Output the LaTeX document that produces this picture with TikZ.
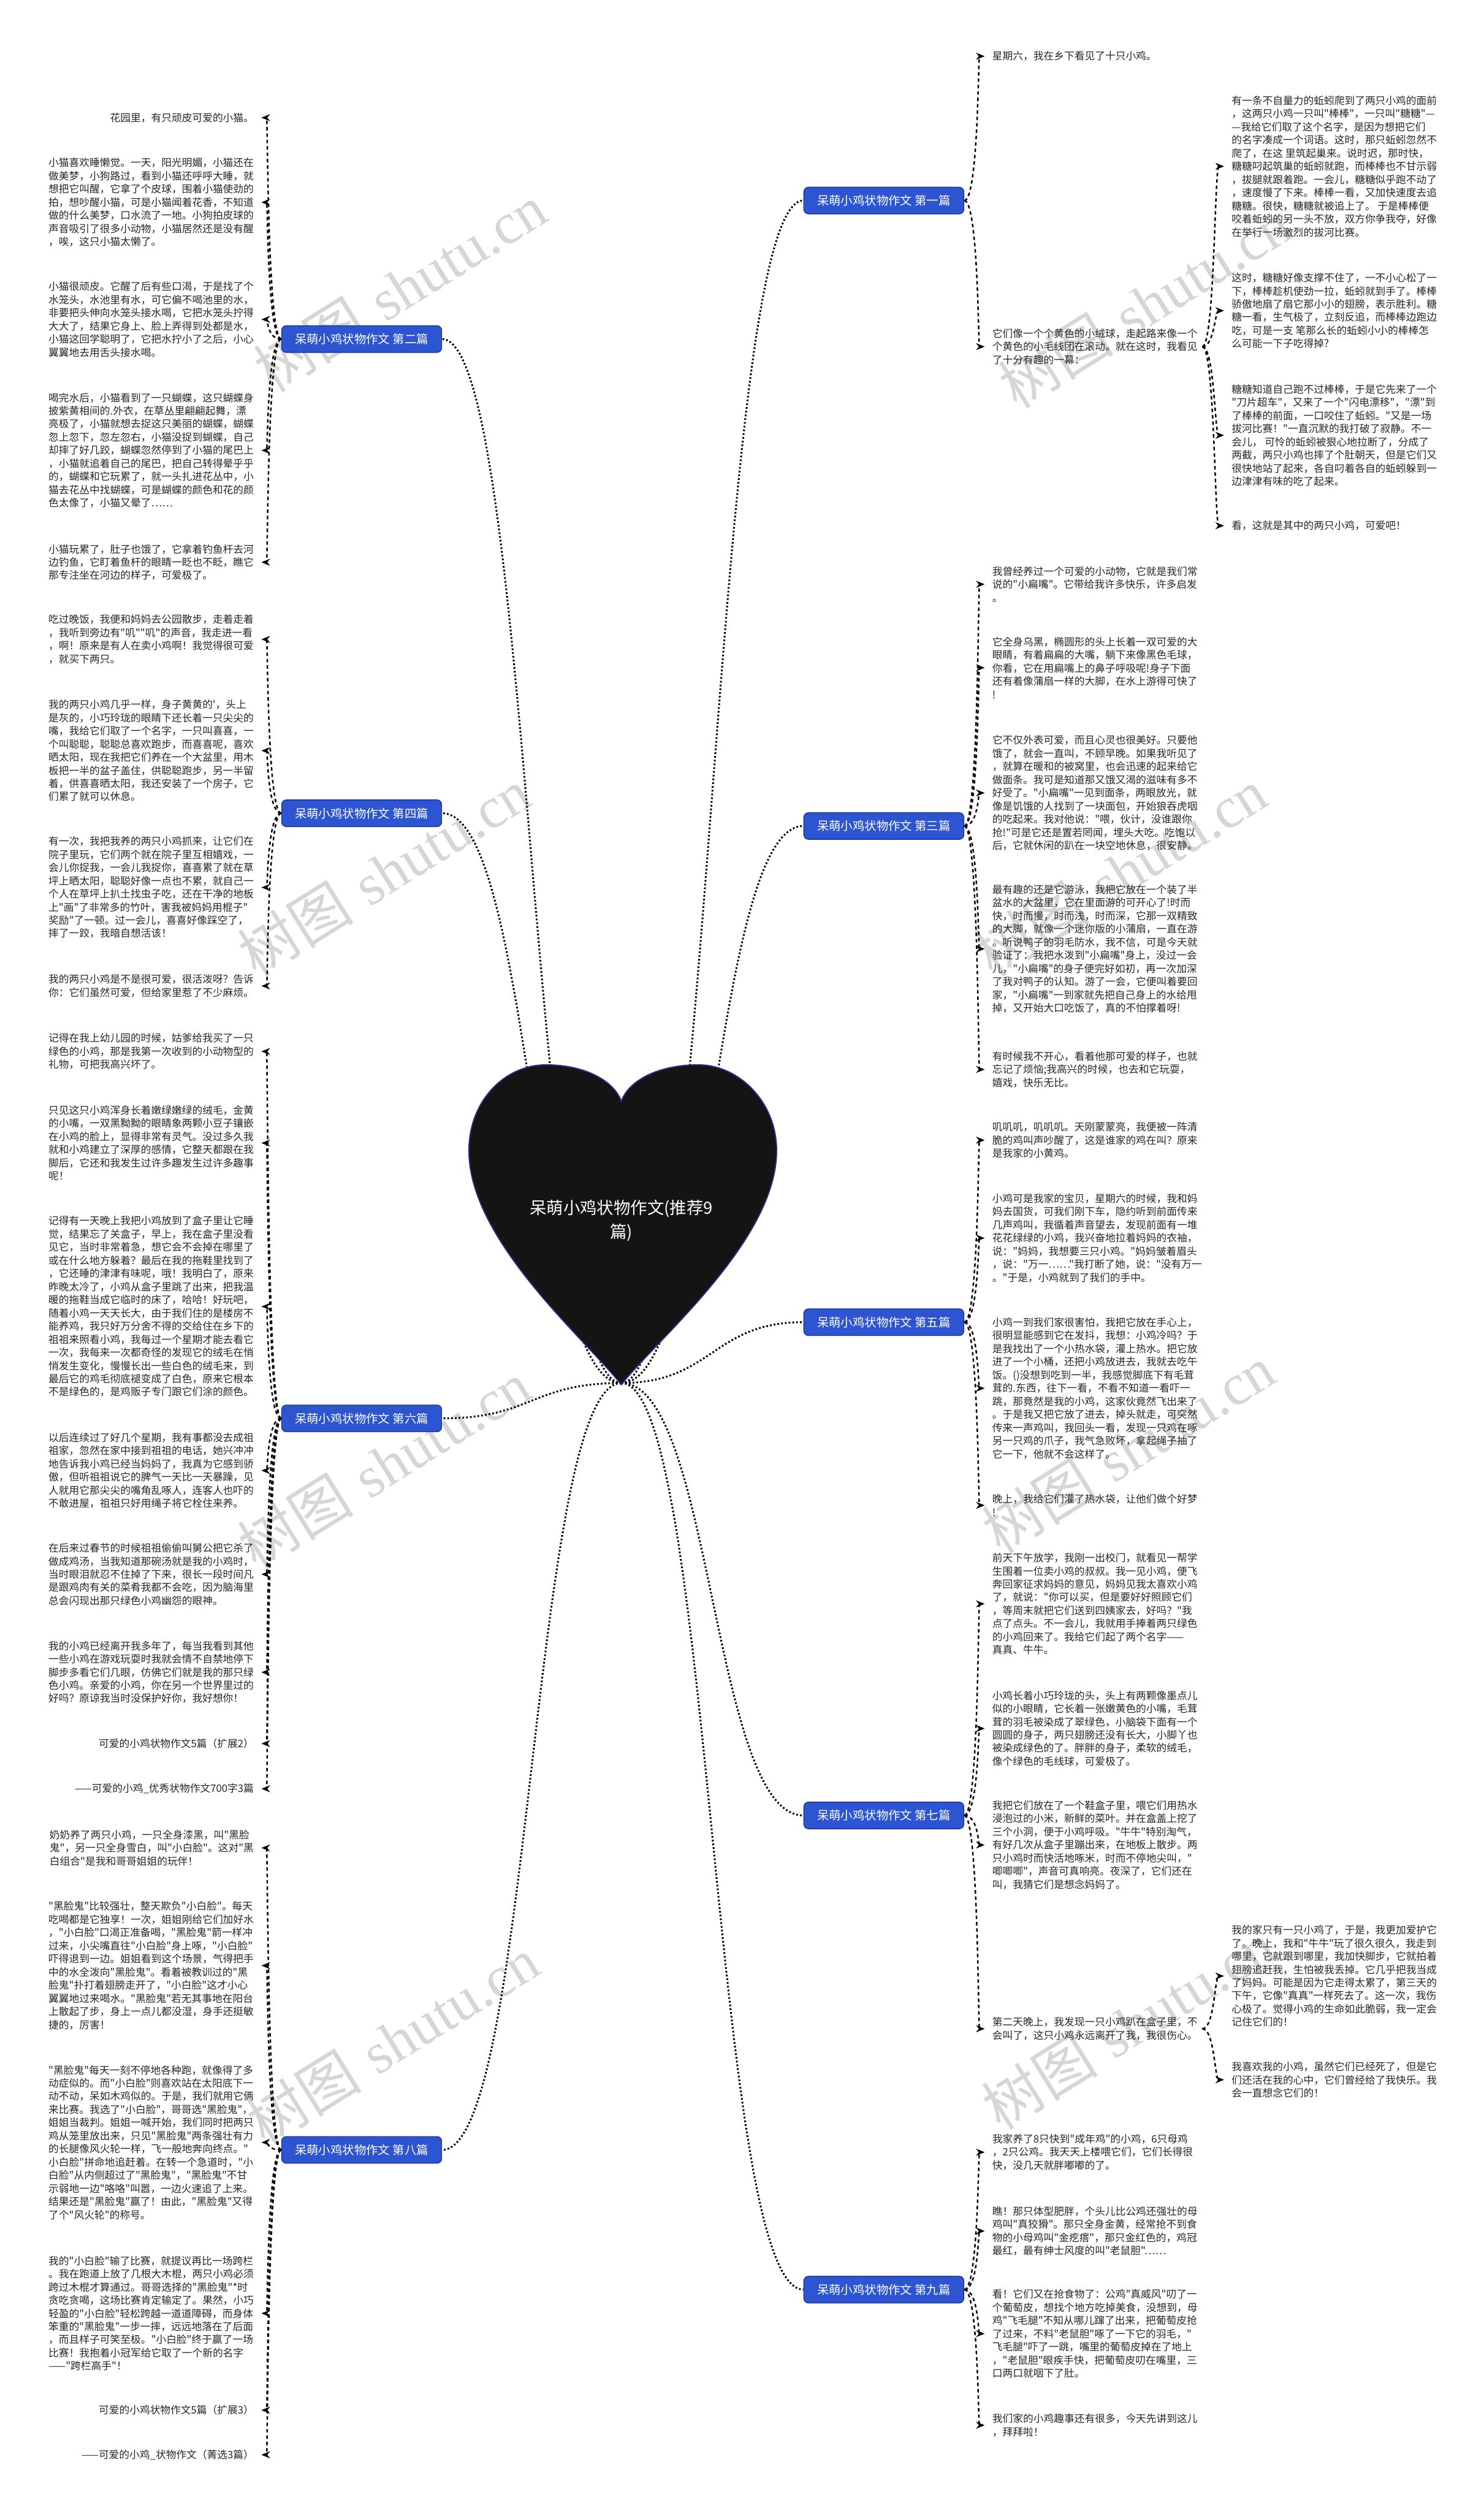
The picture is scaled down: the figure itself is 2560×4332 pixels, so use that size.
\documentclass[tikz,border=0pt]{standalone}
\usepackage{fontspec}
\newfontfamily\cjkf{Noto Sans CJK SC}
\newfontfamily\wmlat{Liberation Serif}
\usetikzlibrary{arrows.meta,calc}
\definecolor{lblblue}{HTML}{2D55D2}
\definecolor{lblborder}{HTML}{1C3596}
\definecolor{txtc}{HTML}{262626}
\definecolor{wmc}{HTML}{D6D6D6}
\definecolor{heartfill}{HTML}{141414}
\definecolor{heartline}{HTML}{27308A}
\tikzset{
 txt/.style={font=\cjkf\fontsize{17.7}{22.7}\selectfont, align=left, inner sep=0pt, text=txtc},
 lbl/.style={rectangle, rounded corners=8pt, fill=lblblue, draw=lblborder, line width=1.5pt, text=white, font=\cjkf\fontsize{20.5}{24}\selectfont, minimum width=276pt, minimum height=46pt, inner sep=0pt},
 sc/.style={to path={let \p1=(\tikztostart), \p2=(\tikztotarget) in .. controls ({0.5*\x1+0.5*\x2},\y1) and ({0.5*\x1+0.5*\x2},\y2) .. (\tikztotarget)}},
 hconn/.style={sc, line width=3.2pt, dash pattern=on 3pt off 3.5pt, draw=black},
 lconn/.style={sc, line width=2.6pt, dash pattern=on 6pt off 5pt, draw=black, -{Stealth[length=15pt,width=12pt]}, shorten >=13pt},
 wm/.style={text=wmc, rotate=32, inner sep=0pt, font=\fontsize{100}{110}\selectfont},
}
\begin{document}
\begin{tikzpicture}[x=1pt,y=-1pt]
\useasboundingbox (0,0) rectangle (2560,4332);
\fill[white] (0,0) rectangle (2560,4332);

% watermarks
\node[wm] (w1) at (690,497) {{\cjkf 树图} {\wmlat shutu.cn}};
\node[wm] (w2) at (1975,525) {{\cjkf 树图} {\wmlat shutu.cn}};
\node[wm] (w3) at (663,1505) {{\cjkf 树图} {\wmlat shutu.cn}};
\node[wm] (w4) at (1933,1505) {{\cjkf 树图} {\wmlat shutu.cn}};
\node[wm] (w5) at (663,2527) {{\cjkf 树图} {\wmlat shutu.cn}};
\node[wm] (w6) at (1947,2500) {{\cjkf 树图} {\wmlat shutu.cn}};
\node[wm] (w7) at (677,3521) {{\cjkf 树图} {\wmlat shutu.cn}};
\node[wm] (w8) at (1947,3494) {{\cjkf 树图} {\wmlat shutu.cn}};

\coordinate (tip) at (1072,2386);

% labels
\node[lbl] (L1) at (1525,346) {呆萌小鸡状物作文 第一篇};
\node[lbl] (L2) at (624,585) {呆萌小鸡状物作文 第二篇};
\node[lbl] (L3) at (1525,1425) {呆萌小鸡状物作文 第三篇};
\node[lbl] (L4) at (624,1403) {呆萌小鸡状物作文 第四篇};
\node[lbl] (L5) at (1525,2281) {呆萌小鸡状物作文 第五篇};
\node[lbl] (L6) at (624,2447) {呆萌小鸡状物作文 第六篇};
\node[lbl] (L7) at (1525,3132) {呆萌小鸡状物作文 第七篇};
\node[lbl] (L8) at (624,3709) {呆萌小鸡状物作文 第八篇};
\node[lbl] (L9) at (1525,3950) {呆萌小鸡状物作文 第九篇};

% ---------- left: 第二篇
\node[txt,anchor=east] (A1) at (438,203) {花园里，有只顽皮可爱的小猫。};
\node[txt,anchor=east] (A2) at (438,349) {小猫喜欢睡懒觉。一天，阳光明媚，小猫还在\\做美梦，小狗路过，看到小猫还呼呼大睡，就\\想把它叫醒，它拿了个皮球，围着小猫使劲的\\拍，想吵醒小猫，可是小猫闻着花香，不知道\\做的什么美梦，口水流了一地。小狗拍皮球的\\声音吸引了很多小动物，小猫居然还是没有醒\\，唉，这只小猫太懒了。};
\node[txt,anchor=east] (A3) at (438,551) {小猫很顽皮。它醒了后有些口渴，于是找了个\\水笼头，水池里有水，可它偏不喝池里的水，\\非要把头伸向水笼头接水喝，它把水笼头拧得\\大大了，结果它身上、脸上弄得到处都是水，\\小猫这回学聪明了，它把水拧小了之后，小心\\翼翼地去用舌头接水喝。};
\node[txt,anchor=east] (A4) at (438,777) {喝完水后，小猫看到了一只蝴蝶，这只蝴蝶身\\披紫黄相间的.外衣，在草丛里翩翩起舞，漂\\亮极了，小猫就想去捉这只美丽的蝴蝶，蝴蝶\\忽上忽下，忽左忽右，小猫没捉到蝴蝶，自己\\却摔了好几跤，蝴蝶忽然停到了小猫的尾巴上\\，小猫就追着自己的尾巴，把自己转得晕乎乎\\的，蝴蝶和它玩累了，就一头扎进花丛中，小\\猫去花丛中找蝴蝶，可是蝴蝶的颜色和花的颜\\色太像了，小猫又晕了……};
\node[txt,anchor=east] (A5) at (438,970) {小猫玩累了，肚子也饿了，它拿着钓鱼杆去河\\边钓鱼，它盯着鱼杆的眼睛一眨也不眨，瞧它\\那专注坐在河边的样子，可爱极了。};

% ---------- left: 第四篇
\node[txt,anchor=east] (B1) at (438,1103) {吃过晚饭，我便和妈妈去公园散步，走着走着\\，我听到旁边有"叽""叽"的声音，我走进一看\\，啊！原来是有人在卖小鸡啊！我觉得很可爱\\，就买下两只。};
\node[txt,anchor=east] (B2) at (438,1295) {我的两只小鸡几乎一样，身子黄黄的'，头上\\是灰的，小巧玲珑的眼睛下还长着一只尖尖的\\嘴，我给它们取了一个名字，一只叫喜喜，一\\个叫聪聪，聪聪总喜欢跑步，而喜喜呢，喜欢\\晒太阳，现在我把它们养在一个大盆里，用木\\板把一半的盆子盖住，供聪聪跑步，另一半留\\着，供喜喜晒太阳，我还安装了一个房子，它\\们累了就可以休息。};
\node[txt,anchor=east] (B3) at (438,1531) {有一次，我把我养的两只小鸡抓来，让它们在\\院子里玩，它们两个就在院子里互相嬉戏，一\\会儿你捉我，一会儿我捉你，喜喜累了就在草\\坪上晒太阳，聪聪好像一点也不累，就自己一\\个人在草坪上扒土找虫子吃，还在干净的地板\\上"画"了非常多的竹叶，害我被妈妈用棍子"\\奖励"了一顿。过一会儿，喜喜好像踩空了，\\摔了一跤，我暗自想活该！};
\node[txt,anchor=east] (B4) at (438,1701) {我的两只小鸡是不是很可爱，很活泼呀？告诉\\你：它们虽然可爱，但给家里惹了不少麻烦。};

% ---------- left: 第六篇
\node[txt,anchor=east] (C1) at (438,1814) {记得在我上幼儿园的时候，姑爹给我买了一只\\绿色的小鸡，那是我第一次收到的小动物型的\\礼物，可把我高兴坏了。};
\node[txt,anchor=east] (C2) at (438,1972) {只见这只小鸡浑身长着嫩绿嫩绿的绒毛，金黄\\的小嘴，一双黑黝黝的眼睛象两颗小豆子镶嵌\\在小鸡的脸上，显得非常有灵气。没过多久我\\就和小鸡建立了深厚的感情，它整天都跟在我\\脚后，它还和我发生过许多趣发生过许多趣事\\呢！};
\node[txt,anchor=east] (C3) at (438,2254) {记得有一天晚上我把小鸡放到了盒子里让它睡\\觉，结果忘了关盒子，早上，我在盒子里没看\\见它，当时非常着急，想它会不会掉在哪里了\\或在什么地方躲着？最后在我的拖鞋里找到了\\，它还睡的津津有味呢，哦！我明白了，原来\\昨晚太冷了，小鸡从盒子里跳了出来，把我温\\暖的拖鞋当成它临时的床了，哈哈！好玩吧，\\随着小鸡一天天长大，由于我们住的是楼房不\\能养鸡，我只好万分舍不得的交给住在乡下的\\祖祖来照看小鸡，我每过一个星期才能去看它\\一次，我每来一次都奇怪的发现它的绒毛在悄\\悄发生变化，慢慢长出一些白色的绒毛来，到\\最后它的鸡毛彻底褪变成了白色，原来它根本\\不是绿色的，是鸡贩子专门跟它们涂的颜色。};
\node[txt,anchor=east] (C4) at (438,2537) {以后连续过了好几个星期，我有事都没去成祖\\祖家，忽然在家中接到祖祖的电话，她兴冲冲\\地告诉我小鸡已经当妈妈了，我真为它感到骄\\傲，但听祖祖说它的脾气一天比一天暴躁，见\\人就用它那尖尖的嘴角乱啄人，连客人也吓的\\不敢进屋，祖祖只好用绳子将它栓住来养。};
\node[txt,anchor=east] (C5) at (438,2716) {在后来过春节的时候祖祖偷偷叫舅公把它杀了\\做成鸡汤，当我知道那碗汤就是我的小鸡时，\\当时眼泪就忍不住掉了下来，很长一段时间凡\\是跟鸡肉有关的菜肴我都不会吃，因为脑海里\\总会闪现出那只绿色小鸡幽怨的眼神。};
\node[txt,anchor=east] (C6) at (438,2885) {我的小鸡已经离开我多年了，每当我看到其他\\一些小鸡在游戏玩耍时我就会情不自禁地停下\\脚步多看它们几眼，仿佛它们就是我的那只绿\\色小鸡。亲爱的小鸡，你在另一个世界里过的\\好吗？原谅我当时没保护好你，我好想你！};
\node[txt,anchor=east] (C7) at (438,3008) {可爱的小鸡状物作文5篇（扩展2）};
\node[txt,anchor=east] (C8) at (438,3086) {——可爱的小鸡\_优秀状物作文700字3篇};

% ---------- left: 第八篇
\node[txt,anchor=east] (D1) at (438,3188) {奶奶养了两只小鸡，一只全身漆黑，叫"黑脸\\鬼"，另一只全身雪白，叫"小白脸"。这对"黑\\白组合"是我和哥哥姐姐的玩伴！};
\node[txt,anchor=east] (D2) at (438,3391) {"黑脸鬼"比较强壮，整天欺负"小白脸"。每天\\吃喝都是它独享！一次，姐姐刚给它们加好水\\，"小白脸"口渴正准备喝，"黑脸鬼"箭一样冲\\过来，小尖嘴直往"小白脸"身上啄，"小白脸"\\吓得退到一边。姐姐看到这个场景，气得把手\\中的水全泼向"黑脸鬼"。看着被教训过的"黑\\脸鬼"扑打着翅膀走开了，"小白脸"这才小心\\翼翼地过来喝水。"黑脸鬼"若无其事地在阳台\\上散起了步，身上一点儿都没湿，身手还挺敏\\捷的，厉害！};
\node[txt,anchor=east] (D3) at (438,3696) {"黑脸鬼"每天一刻不停地各种跑，就像得了多\\动症似的。而"小白脸"则喜欢站在太阳底下一\\动不动，呆如木鸡似的。于是，我们就用它俩\\来比赛。我选了"小白脸"，哥哥选"黑脸鬼"，\\姐姐当裁判。姐姐一喊开始，我们同时把两只\\鸡从笼里放出来，只见"黑脸鬼"两条强壮有力\\的长腿像风火轮一样，飞一般地奔向终点。"\\小白脸"拼命地追赶着。在转一个急道时，"小\\白脸"从内侧超过了"黑脸鬼"，"黑脸鬼"不甘\\示弱地一边"咯咯"叫嚣，一边火速追了上来。\\结果还是"黑脸鬼"赢了！由此，"黑脸鬼"又得\\了个"风火轮"的称号。};
\node[txt,anchor=east] (D4) at (438,3991) {我的"小白脸"输了比赛，就提议再比一场跨栏\\。我在跑道上放了几根大木棍，两只小鸡必须\\跨过木棍才算通过。哥哥选择的"黑脸鬼"*时\\贪吃贪喝，这场比赛肯定输定了。果然，小巧\\轻盈的"小白脸"轻松跨越一道道障碍，而身体\\笨重的"黑脸鬼"一步一摔，远远地落在了后面\\，而且样子可笑至极。"小白脸"终于赢了一场\\比赛！我抱着小冠军给它取了一个新的名字\\——"跨栏高手"！};
\node[txt,anchor=east] (D5) at (438,4158) {可爱的小鸡状物作文5篇（扩展3）};
\node[txt,anchor=east] (D6) at (438,4235) {——可爱的小鸡\_状物作文（菁选3篇）};

% ---------- right: 第一篇
\node[txt,anchor=west] (E1) at (1712,97) {星期六，我在乡下看见了十只小鸡。};
\node[txt,anchor=west] (E2) at (1712,598) {它们像一个个黄色的小绒球，走起路来像一个\\个黄色的小毛线团在滚动。就在这时，我看见\\了十分有趣的一幕：};
\node[txt,anchor=west] (F1) at (2125,287) {有一条不自量力的蚯蚓爬到了两只小鸡的面前\\，这两只小鸡一只叫"棒棒"，一只叫"糖糖"—\\—我给它们取了这个名字，是因为想把它们\\的名字凑成一个词语。这时，那只蚯蚓忽然不\\爬了，在这 里筑起巢来。说时迟，那时快，\\糖糖叼起筑巢的蚯蚓就跑，而棒棒也不甘示弱\\，拔腿就跟着跑。一会儿，糖糖似乎跑不动了\\，速度慢了下来。棒棒一看，又加快速度去追\\糖糖。很快，糖糖就被追上了。 于是棒棒便\\咬着蚯蚓的另一头不放，双方你争我夺，好像\\在举行一场激烈的拔河比赛。};
\node[txt,anchor=west] (F2) at (2125,536) {这时，糖糖好像支撑不住了，一不小心松了一\\下，棒棒趁机使劲一拉，蚯蚓就到手了。棒棒\\骄傲地扇了扇它那小小的翅膀，表示胜利。糖\\糖一看，生气极了，立刻反追，而棒棒边跑边\\吃，可是一支 笔那么长的蚯蚓小小的棒棒怎\\么可能一下子吃得掉?};
\node[txt,anchor=west] (F3) at (2125,751) {糖糖知道自己跑不过棒棒，于是它先来了一个\\"刀片超车"，又来了一个"闪电漂移"，"漂"到\\了棒棒的前面，一口咬住了蚯蚓。"又是一场\\拔河比赛！"一直沉默的我打破了寂静。不一\\会儿， 可怜的蚯蚓被狠心地拉断了，分成了\\两截，两只小鸡也摔了个肚朝天，但是它们又\\很快地站了起来，各自叼着各自的蚯蚓躲到一\\边津津有味的吃了起来。};
\node[txt,anchor=west] (F4) at (2125,907) {看，这就是其中的两只小鸡，可爱吧！};

% ---------- right: 第三篇
\node[txt,anchor=west] (G1) at (1712,1008) {我曾经养过一个可爱的小动物，它就是我们常\\说的"小扁嘴"。它带给我许多快乐，许多启发\\。};
\node[txt,anchor=west] (G2) at (1712,1152) {它全身乌黑，椭圆形的头上长着一双可爱的大\\眼睛，有着扁扁的大嘴，躺下来像黑色毛球，\\你看，它在用扁嘴上的鼻子呼吸呢!身子下面\\还有着像蒲扇一样的大脚，在水上游得可快了\\!};
\node[txt,anchor=west] (G3) at (1712,1368) {它不仅外表可爱，而且心灵也很美好。只要他\\饿了，就会一直叫，不顾早晚。如果我听见了\\，就算在暖和的被窝里，也会迅速的起来给它\\做面条。我可是知道那又饿又渴的滋味有多不\\好受了。"小扁嘴"一见到面条，两眼放光，就\\像是饥饿的人找到了一块面包，开始狼吞虎咽\\的吃起来。我对他说："喂，伙计，没谁跟你\\抢!"可是它还是置若罔闻，埋头大吃。吃饱以\\后，它就休闲的趴在一块空地休息，很安静。};
\node[txt,anchor=west] (G4) at (1712,1637) {最有趣的还是它游泳，我把它放在一个装了半\\盆水的大盆里，它在里面游的可开心了!时而\\快，时而慢，时而浅，时而深，它那一双精致\\的大脚，就像一个迷你版的小蒲扇，一直在游\\。听说鸭子的羽毛防水，我不信，可是今天就\\验证了：我把水泼到"小扁嘴"身上，没过一会\\儿，"小扁嘴"的身子便完好如初，再一次加深\\了我对鸭子的认知。游了一会，它便叫着要回\\家，"小扁嘴"一到家就先把自己身上的水给甩\\掉，又开始大口吃饭了，真的不怕撑着呀!};
\node[txt,anchor=west] (G5) at (1712,1845) {有时候我不开心，看着他那可爱的样子，也就\\忘记了烦恼;我高兴的时候，也去和它玩耍，\\嬉戏，快乐无比。};

% ---------- right: 第五篇
\node[txt,anchor=west] (H1) at (1712,1967) {叽叽叽，叽叽叽。天刚蒙蒙亮，我便被一阵清\\脆的鸡叫声吵醒了，这是谁家的鸡在叫？原来\\是我家的小黄鸡。};
\node[txt,anchor=west] (H2) at (1712,2136) {小鸡可是我家的宝贝，星期六的时候，我和妈\\妈去国货，可我们刚下车，隐约听到前面传来\\几声鸡叫，我循着声音望去，发现前面有一堆\\花花绿绿的小鸡，我兴奋地拉着妈妈的衣袖，\\说："妈妈，我想要三只小鸡。"妈妈皱着眉头\\，说："万一……"我打断了她，说："没有万一\\。"于是，小鸡就到了我们的手中。};
\node[txt,anchor=west] (H3) at (1712,2395) {小鸡一到我们家很害怕，我把它放在手心上，\\很明显能感到它在发抖，我想：小鸡冷吗？于\\是我找出了一个小热水袋，灌上热水。把它放\\进了一个小桶，还把小鸡放进去，我就去吃午\\饭。()没想到吃到一半，我感觉脚底下有毛茸\\茸的.东西，往下一看，不看不知道一看吓一\\跳，那竟然是我的小鸡，这家伙竟然飞出来了\\。于是我又把它放了进去，掉头就走，可突然\\传来一声鸡叫，我回头一看，发现一只鸡在啄\\另一只鸡的爪子，我气急败坏，拿起绳子抽了\\它一下，他就不会这样了。};
\node[txt,anchor=west] (H4) at (1712,2597) {晚上，我给它们灌了热水袋，让他们做个好梦\\!};

% ---------- right: 第七篇
\node[txt,anchor=west] (I1) at (1712,2767) {前天下午放学，我刚一出校门，就看见一帮学\\生围着一位卖小鸡的叔叔。我一见小鸡，便飞\\奔回家征求妈妈的意见，妈妈见我太喜欢小鸡\\了，就说："你可以买，但是要好好照顾它们\\，等周末就把它们送到四姨家去，好吗？"我\\点了点头。不一会儿，我就用手捧着两只绿色\\的小鸡回来了。我给它们起了两个名字——\\真真、牛牛。};
\node[txt,anchor=west] (I2) at (1712,2982) {小鸡长着小巧玲珑的头，头上有两颗像墨点儿\\似的小眼睛，它长着一张嫩黄色的小嘴，毛茸\\茸的羽毛被染成了翠绿色，小脑袋下面有一个\\圆圆的身子，两只翅膀还没有长大，小脚丫也\\被染成绿色的了。胖胖的身子，柔软的绒毛，\\像个绿色的毛线球，可爱极了。};
\node[txt,anchor=west] (I3) at (1712,3183) {我把它们放在了一个鞋盒子里，喂它们用热水\\浸泡过的小米，新鲜的菜叶。并在盒盖上挖了\\三个小洞，便于小鸡呼吸。"牛牛"特别淘气，\\有好几次从盒子里蹦出来，在地板上散步。两\\只小鸡时而快活地啄米，时而不停地尖叫，"\\唧唧唧"，声音可真响亮。夜深了，它们还在\\叫，我猜它们是想念妈妈了。};
\node[txt,anchor=west] (I4) at (1712,3500) {第二天晚上，我发现一只小鸡趴在盒子里，不\\会叫了，这只小鸡永远离开了我，我很伤心。};
\node[txt,anchor=west] (J1) at (2125,3409) {我的家只有一只小鸡了，于是，我更加爱护它\\了。晚上，我和"牛牛"玩了很久很久，我走到\\哪里，它就跟到哪里，我加快脚步，它就拍着\\翅膀追赶我，生怕被我丢掉。它几乎把我当成\\了妈妈。可能是因为它走得太累了，第三天的\\下午，它像"真真"一样死去了。这一次，我伤\\心极了。觉得小鸡的生命如此脆弱，我一定会\\记住它们的！};
\node[txt,anchor=west] (J2) at (2125,3588) {我喜欢我的小鸡，虽然它们已经死了，但是它\\们还活在我的心中，它们曾经给了我快乐。我\\会一直想念它们的！};

% ---------- right: 第九篇
\node[txt,anchor=west] (K1) at (1712,3713) {我家养了8只快到"成年鸡"的小鸡，6只母鸡\\，2只公鸡。我天天上楼喂它们，它们长得很\\快，没几天就胖嘟嘟的了。};
\node[txt,anchor=west] (K2) at (1712,3849) {瞧！那只体型肥胖，个头儿比公鸡还强壮的母\\鸡叫"真狡猾"。那只全身金黄，经常抢不到食\\物的小母鸡叫"金疙瘩"，那只金红色的，鸡冠\\最红，最有绅士风度的叫"老鼠胆"……};
\node[txt,anchor=west] (K3) at (1712,4026) {看！它们又在抢食物了：公鸡"真威风"叨了一\\个葡萄皮，想找个地方吃掉美食，没想到，母\\鸡"飞毛腿"不知从哪儿蹿了出来，把葡萄皮抢\\了过来，不料"老鼠胆"啄了一下它的羽毛，"\\飞毛腿"吓了一跳，嘴里的葡萄皮掉在了地上\\，"老鼠胆"眼疾手快，把葡萄皮叨在嘴里，三\\口两口就咽下了肚。};
\node[txt,anchor=west] (K4) at (1712,4184) {我们家的小鸡趣事还有很多，今天先讲到这儿\\，拜拜啦！};

% ---------- connectors: heart to labels
\foreach \l in {L1,L3,L5,L7,L9} \draw[hconn] (tip) to (\l.west);
\foreach \l in {L2,L4,L6,L8} \draw[hconn] (tip) to (\l.east);

% ---------- connectors: labels to texts
\foreach \t in {A1,A2,A3,A4,A5} \draw[lconn] (L2.west) to (\t.east);
\foreach \t in {B1,B2,B3,B4} \draw[lconn] (L4.west) to (\t.east);
\foreach \t in {C1,C2,C3,C4,C5,C6,C7,C8} \draw[lconn] (L6.west) to (\t.east);
\foreach \t in {D1,D2,D3,D4,D5,D6} \draw[lconn] (L8.west) to (\t.east);
\foreach \t in {E1,E2} \draw[lconn] (L1.east) to (\t.west);
\foreach \t in {F1,F2,F3,F4} \draw[lconn,shorten <=8pt] (E2.east) to (\t.west);
\foreach \t in {G1,G2,G3,G4,G5} \draw[lconn] (L3.east) to (\t.west);
\foreach \t in {H1,H2,H3,H4} \draw[lconn] (L5.east) to (\t.west);
\foreach \t in {I1,I2,I3,I4} \draw[lconn] (L7.east) to (\t.west);
\foreach \t in {J1,J2} \draw[lconn,shorten <=8pt] (I4.east) to (\t.west);
\foreach \t in {K1,K2,K3,K4} \draw[lconn] (L9.east) to (\t.west);

% ---------- heart (root)
\draw[fill=heartfill, draw=heartline, line width=2pt]
 (1072,2389) .. controls (1010,2310) and (809,2140) .. (809,1985)
 .. controls (809,1900) and (870,1837) .. (942,1837)
 .. controls (1010,1837) and (1060,1865) .. (1072,1900)
 .. controls (1084,1865) and (1134,1837) .. (1205,1837)
 .. controls (1274,1837) and (1340,1900) .. (1340,1985)
 .. controls (1340,2140) and (1134,2310) .. (1072,2389) -- cycle;
\node[font=\cjkf\fontsize{29}{41}\selectfont, text=white, align=center] (root) at (1072,2106) {呆萌小鸡状物作文(推荐9\\篇)};
\end{tikzpicture}
\end{document}
